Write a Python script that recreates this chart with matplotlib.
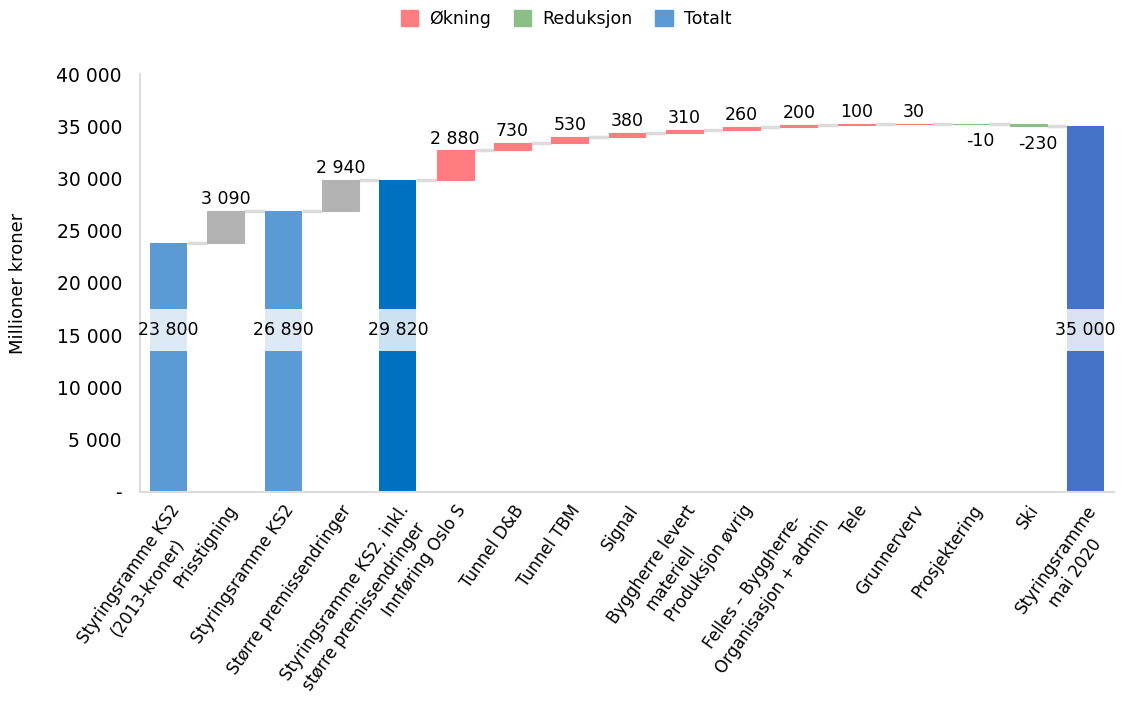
import matplotlib.pyplot as plt
from matplotlib.patches import Patch
from matplotlib.transforms import ScaledTranslation

# --- Data ---
labels = [
    "Styringsramme KS2\n(2013-kroner)",
    "Prisstigning",
    "Styringsramme KS2",
    "Større premissendringer",
    "Styringsramme KS2, inkl.\nstørre premissendringer",
    "Innføring Oslo S",
    "Tunnel D&B",
    "Tunnel TBM",
    "Signal",
    "Byggherre levert\nmateriell",
    "Produksjon øvrig",
    "Felles – Byggherre-\nOrganisasjon + admin",
    "Tele",
    "Grunnerverv",
    "Prosjektering",
    "Ski",
    "Styringsramme\nmai 2020",
]
values = [23800, 3090, 26890, 2940, 29820, 2880, 730, 530, 380, 310,
          260, 200, 100, 30, -10, -230, 35000]
kinds = ["total", "adj", "total", "adj", "total", "step", "step", "step",
         "step", "step", "step", "step", "step", "step", "step", "step", "total"]
total_colors = ["#5B9BD5", None, "#5B9BD5", None, "#0070C0"] + [None] * 11 + ["#4472C4"]

# --- Colours ---
c_inc = "#FF7C80"
c_dec = "#8CBF88"
c_adj = "#B3B3B3"
c_conn = "#DCDCDC"
band = (13460, 17470)

plt.rcParams["font.family"] = ["DejaVu Sans"]


def fmt(n):
    return f"{n:,}".replace(",", " ")


fig = plt.figure(figsize=(11.3, 7.04), dpi=100)
ax = fig.add_axes([140 / 1130, (704 - 492) / 704, (1114 - 140) / 1130, (492 - 74) / 704])

width = 0.645
running = 0
tops = []
for i, (v, k) in enumerate(zip(values, kinds)):
    if k == "total":
        bottom, height = 0, v
        color = total_colors[i]
        running = v
        ax.bar(i, height, width, bottom=bottom, color=color, zorder=2)
    else:
        bottom = running if v >= 0 else running + v
        height = abs(v)
        color = c_adj if k == "adj" else (c_inc if v >= 0 else c_dec)
        running += v
        ax.bar(i, height, width, bottom=bottom, color=color,
               edgecolor=color, linewidth=0.8, zorder=2)
    tops.append(running)

    if k == "total":
        ax.bar(i, band[1] - band[0], width, bottom=band[0], color="white",
               alpha=0.8, zorder=3)
        ax.text(i, sum(band) / 2, fmt(v), ha="center", va="center",
                fontsize=12.5, zorder=4)
    elif v >= 0:
        ax.annotate(fmt(v), (i, bottom + height), xytext=(0, 2),
                    textcoords="offset points", ha="center", va="bottom",
                    fontsize=12.5)
    else:
        ax.annotate(fmt(v), (i, bottom), xytext=(7, -6),
                    textcoords="offset points", ha="center", va="top",
                    fontsize=12.5)

# connectors
for i in range(len(values) - 1):
    ax.plot([i + width / 2, i + 1 - width / 2], [tops[i], tops[i]],
            color=c_conn, lw=2.5, zorder=1, solid_capstyle="butt")

ax.set_xlim(-0.5, 16.5)
ax.set_ylim(0, 40000)
yt = list(range(0, 40001, 5000))
ax.set_yticks(yt)
ax.set_yticklabels(["-"] + [fmt(t) for t in yt[1:]], fontsize=13.5)
ax.set_xticks(range(len(labels)))
ax.set_xticklabels(labels, rotation=55, ha="right", va="top",
                   rotation_mode="anchor", multialignment="center",
                   fontsize=12, linespacing=1.4)
shift = ScaledTranslation(12 / 100, 0, fig.dpi_scale_trans)
for lab in ax.get_xticklabels():
    lab.set_transform(lab.get_transform() + shift)
ax.tick_params(length=0)
ax.tick_params(axis="y", pad=13)
ax.tick_params(axis="x", pad=7)
for s in ["top", "right"]:
    ax.spines[s].set_visible(False)
for s in ["left", "bottom"]:
    ax.spines[s].set_color(c_conn)
    ax.spines[s].set_linewidth(1.5)

fig.text(18 / 1130, 1 - 283 / 704, "Millioner kroner", rotation=90,
         ha="center", va="center", fontsize=13)

handles = [Patch(color=c_inc, label="Økning"),
           Patch(color=c_dec, label="Reduksjon"),
           Patch(color="#5B9BD5", label="Totalt")]
fig.legend(handles=handles, loc="center", bbox_to_anchor=(566 / 1130, 1 - 19 / 704),
           ncol=3, frameon=False, fontsize=12.5, handlelength=1.0,
           handleheight=1.0, columnspacing=1.3, handletextpad=0.65)

fig.savefig("out.png", dpi=100)
